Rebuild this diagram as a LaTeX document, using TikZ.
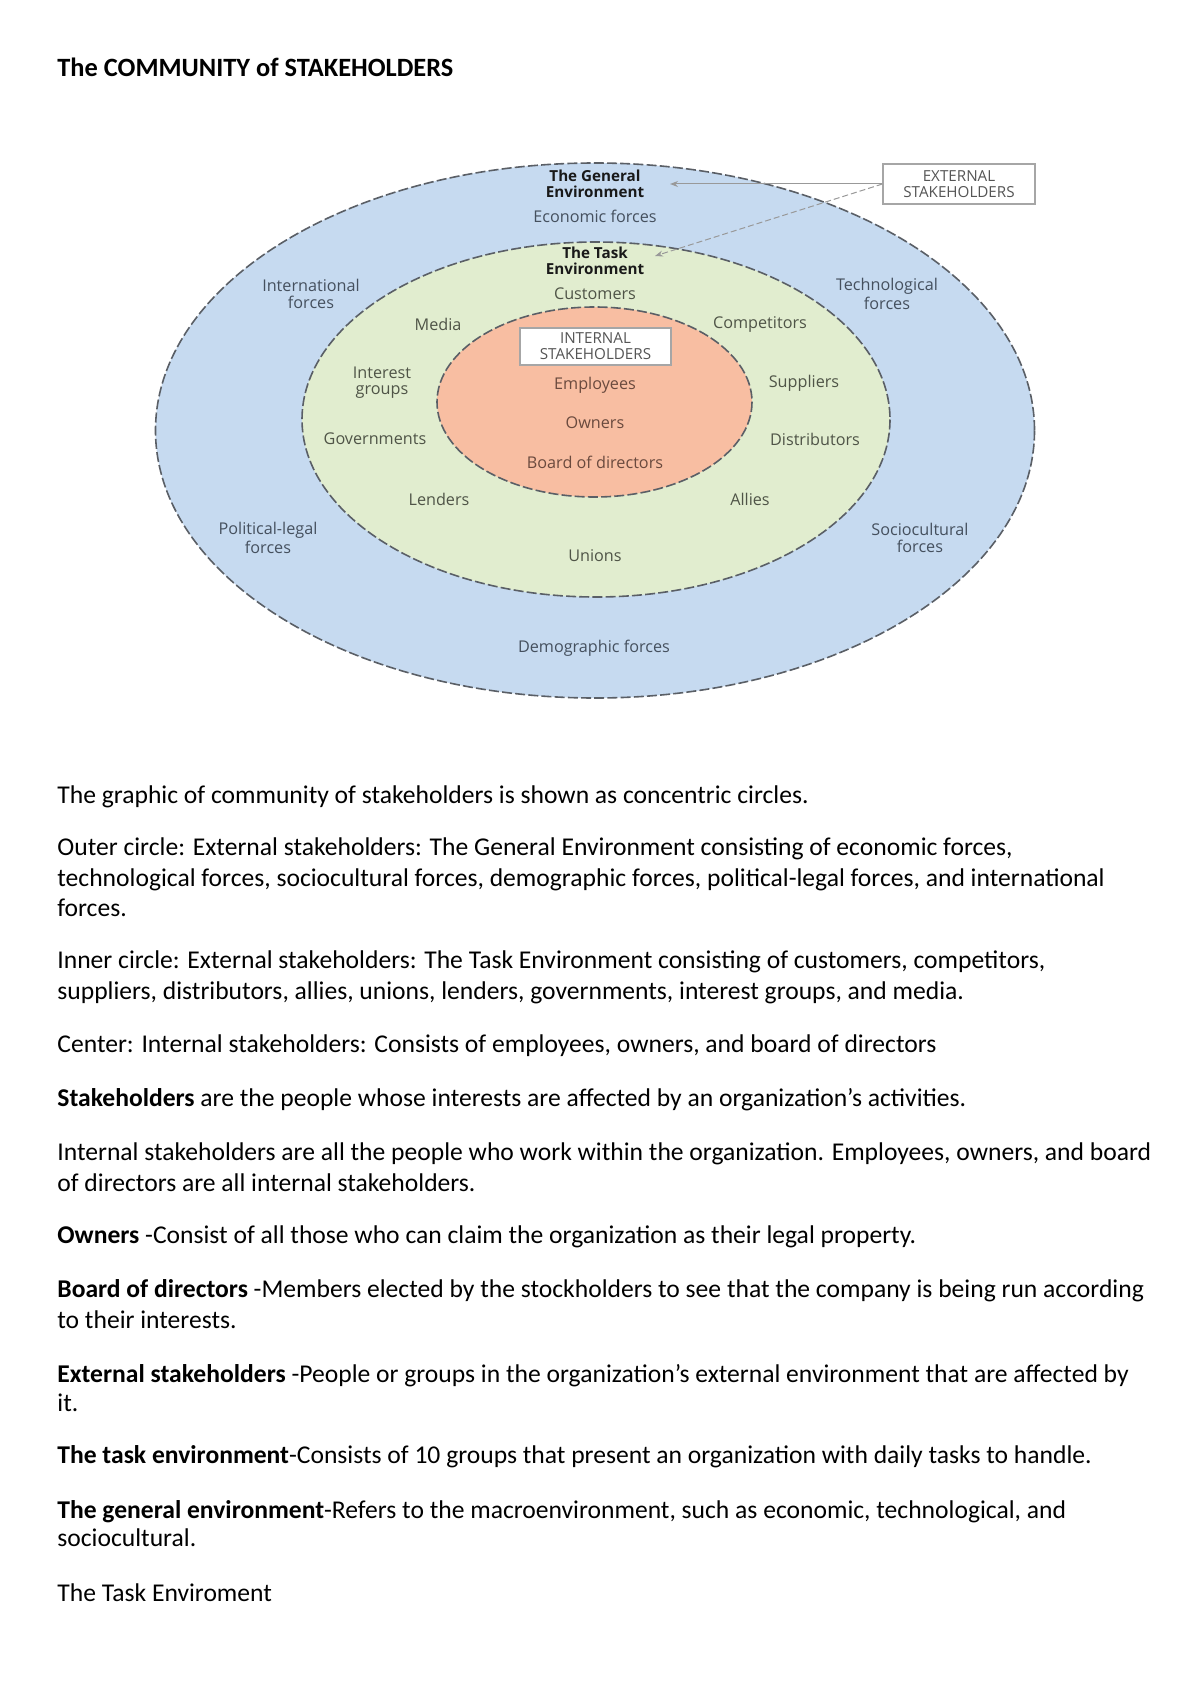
\documentclass[tikz,border=0pt]{standalone}
\usepackage{fontspec}
\setmainfont{Carlito}
\newfontfamily\labfont{Open Sans}
\usetikzlibrary{arrows.meta}
\definecolor{genblue}{HTML}{C6DAF0}
\definecolor{taskgreen}{HTML}{E1EDCF}
\definecolor{intsalmon}{HTML}{F8BEA2}
\definecolor{rimgray}{HTML}{5A5F66}
\definecolor{outtxt}{HTML}{45505E}
\definecolor{gretxt}{HTML}{4F5447}
\definecolor{inntxt}{HTML}{6A4A3E}
\definecolor{boxtxt}{HTML}{555555}
\tikzset{
  rim/.style={draw=rimgray, line width=0.8pt, dash pattern=on 5pt off 1.6pt},
  glab/.style={font=\labfont\fontsize{8.1}{8.1}\selectfont, text=outtxt, align=center, inner sep=0pt},
  tlab/.style={glab, text=gretxt},
  ilab/.style={glab, text=inntxt},
  hlab/.style={font=\labfont\bfseries\fontsize{7.6}{7.8}\selectfont, text=black!90, align=center, inner sep=0pt},
  tagbox/.style={draw=gray!70, fill=white, line width=0.6pt, font=\labfont\fontsize{7.6}{8}\selectfont, text=boxtxt, align=center, inner sep=0pt},
  pointer/.style={draw=gray!80, line width=0.5pt, -{Stealth[length=4pt,width=3pt]}},
  bodyline/.style={anchor=base west, inner sep=0pt, font=\fontsize{12.8}{15}\selectfont},
}
\begin{document}
\begin{tikzpicture}[x=0.5pt,y=-0.5pt]
\useasboundingbox[fill=white] (0,0) rectangle (1200,1696);

% title
\node[anchor=base west, inner sep=0pt, font=\bfseries\fontsize{13.2}{15}\selectfont] (title) at (57,77) {The COMMUNITY of STAKEHOLDERS};

% concentric rings
\draw[rim, fill=genblue] (595,430.5) ellipse [x radius=439.5, y radius=267.5];
\draw[rim, fill=taskgreen] (596,419.5) ellipse [x radius=294, y radius=177.5];
\draw[rim, fill=intsalmon] (594.5,402) ellipse [x radius=157.5, y radius=95];

% general environment labels
\node[hlab] (genhead) at (595,184) {The General\\Environment};
\node[glab] (econ) at (595,216) {Economic forces};
\node[glab] (intl) at (311,294) {International\\forces};
\node[glab] (tech) at (887,294) {Technological\\forces};
\node[glab] (polit) at (268,538) {Political-legal\\forces};
\node[glab] (socio) at (920,538) {Sociocultural\\forces};
\node[glab] (demo) at (594,648) {Demographic forces};

% task environment labels
\node[hlab] (taskhead) at (595,260.5) {The Task\\Environment};
\node[tlab] (cust) at (595,294) {Customers};
\node[tlab] (media) at (438,324) {Media};
\node[tlab] (comp) at (760,324) {Competitors};
\node[tlab] (intgr) at (382,382.5) {Interest\\groups};
\node[tlab] (supp) at (804,383) {Suppliers};
\node[tlab] (gov) at (375,439) {Governments};
\node[tlab] (dist) at (815,439) {Distributors};
\node[tlab] (lend) at (439,499) {Lenders};
\node[tlab] (allies) at (750,499) {Allies};
\node[tlab] (unions) at (595,556) {Unions};

% internal labels
\node[tagbox, minimum width=75.5pt, minimum height=18.5pt] (intbox) at (595.5,346.5) {INTERNAL\\STAKEHOLDERS};
\node[ilab] (empl) at (595,385) {Employees};
\node[ilab] (own) at (595,423) {Owners};
\node[ilab] (board) at (595,462) {Board of directors};

% external stakeholders tag and pointers
\node[tagbox, minimum width=76pt, minimum height=20pt] (extbox) at (959,184) {EXTERNAL\\STAKEHOLDERS};
\coordinate (gtip) at (670,184);
\coordinate (ttip) at (655,256);
\draw[pointer] (extbox.west) -- (gtip);
\draw[pointer, dash pattern=on 3pt off 1.5pt] (extbox.west) -- (ttip);

% body text
\node[bodyline] (l1) at (57,803.5) {The graphic of community of stakeholders is shown as concentric circles.};
\node[bodyline] (l2) at (57,855.5) {Outer circle: External stakeholders: The General Environment consisting of economic forces,};
\node[bodyline] (l3) at (57,886.5) {technological forces, sociocultural forces, demographic forces, political-legal forces, and international};
\node[bodyline] (l4) at (57,916.5) {forces.};
\node[bodyline] (l5) at (57,968.5) {Inner circle: External stakeholders: The Task Environment consisting of customers, competitors,};
\node[bodyline] (l6) at (57,999.5) {suppliers, distributors, allies, unions, lenders, governments, interest groups, and media.};
\node[bodyline] (l7) at (57,1052.5) {Center: Internal stakeholders: Consists of employees, owners, and board of directors};
\node[bodyline] (l8) at (57,1106.5) {\textbf{Stakeholders} are the people whose interests are affected by an organization’s activities.};
\node[bodyline] (l9) at (57,1160.5) {Internal stakeholders are all the people who work within the organization. Employees, owners, and board};
\node[bodyline] (l10) at (57,1191.5) {of directors are all internal stakeholders.};
\node[bodyline] (l11) at (57,1243.5) {\textbf{Owners} -Consist of all those who can claim the organization as their legal property.};
\node[bodyline] (l12) at (57,1297.5) {\textbf{Board of directors} -Members elected by the stockholders to see that the company is being run according};
\node[bodyline] (l13) at (57,1328.5) {to their interests.};
\node[bodyline] (l14) at (57,1382.5) {\textbf{External stakeholders} -People or groups in the organization’s external environment that are affected by};
\node[bodyline] (l15) at (57,1411.5) {it.};
\node[bodyline] (l16) at (57,1463) {\textbf{The task environment}-Consists of 10 groups that present an organization with daily tasks to handle.};
\node[bodyline] (l17) at (57,1518) {\textbf{The general environment}-Refers to the macroenvironment, such as economic, technological, and};
\node[bodyline] (l18) at (57,1546) {sociocultural.};
\node[bodyline] (l19) at (57,1601) {The Task Enviroment};
\end{tikzpicture}
\end{document}
